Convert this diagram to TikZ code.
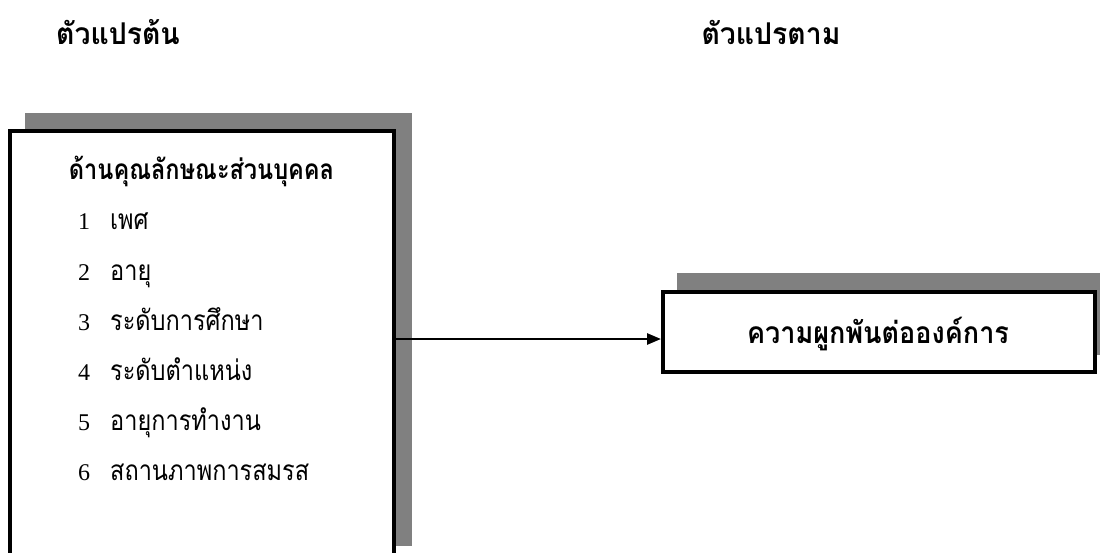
\documentclass[tikz,border=0pt]{standalone}
\usepackage{fontspec}
\usetikzlibrary{arrows.meta}
\newfontfamily\thaiitem[Script=Thai,FakeStretch=0.84]{Loma}
\newfontfamily\thaihead[Script=Thai,FakeStretch=0.84]{Loma}
\newfontfamily\thaiout[Script=Thai,FakeStretch=0.9]{Loma}
\newfontfamily\thaititle[Script=Thai,FakeStretch=0.945]{Loma}
\newfontfamily\digitfont{Liberation Serif}
\definecolor{shadowgray}{HTML}{808080}
\tikzset{
  shadowbox/.style={fill=shadowgray, draw=none},
  mainbox/.style={fill=white, draw=black, line width=4pt},
  titletext/.style={font=\thaititle\bfseries\fontsize{30}{32}\selectfont, anchor=base},
  headtext/.style={font=\thaihead\bfseries\fontsize{28}{30}\selectfont, anchor=base},
  outtext/.style={font=\thaiout\bfseries\fontsize{30}{32}\selectfont, anchor=base},
  itemtext/.style={font=\thaiitem\fontsize{28}{30}\selectfont, anchor=base west, inner sep=0pt},
  numtext/.style={font=\digitfont\fontsize{24}{26}\selectfont, anchor=base west, inner sep=0pt},
  link/.style={line width=2.6pt, -{Triangle[length=14pt,width=11pt]}}
}
\begin{document}
\begin{tikzpicture}[x=1pt,y=1pt]
\useasboundingbox (0,0) rectangle (1100,-553);
\clip (0,0) rectangle (1100,-553);
\fill[white] (0,0) rectangle (1100,-553);
% titles
\node[titletext] (tin) at (118,-45) {ตัวแปรต้น};
\node[titletext] (tout) at (771,-45) {ตัวแปรตาม};
% left box
\fill[shadowbox] (25,-113) rectangle (412,-546);
\draw[mainbox] (10,-131) rectangle (393.5,-565);
\coordinate (lbox) at (393.5,-339);
\node[headtext] (head) at (201.5,-180) {ด้านคุณลักษณะส่วนบุคคล};
\node[numtext] (n1) at (78,-230) {1};
\node[itemtext] (i1) at (110,-230) {เพศ};
\node[numtext] (n2) at (78,-280) {2};
\node[itemtext] (i2) at (110,-280) {อายุ};
\node[numtext] (n3) at (78,-330) {3};
\node[itemtext] (i3) at (110,-330) {ระดับการศึกษา};
\node[numtext] (n4) at (78,-380) {4};
\node[itemtext] (i4) at (110,-380) {ระดับตำแหน่ง};
\node[numtext] (n5) at (78,-430) {5};
\node[itemtext] (i5) at (110,-430) {อายุการทำงาน};
\node[numtext] (n6) at (78,-480) {6};
\node[itemtext] (i6) at (110,-480) {สถานภาพการสมรส};
% right box
\fill[shadowbox] (677,-273) rectangle (1115,-355);
\draw[mainbox] (662.5,-292.5) rectangle (1094.5,-371.5);
\coordinate (rbox) at (661,-339);
\node[outtext] (out) at (878,-343) {ความผูกพันต่อองค์การ};
% connector
\draw[link] (lbox) -- (rbox);
\end{tikzpicture}
\end{document}
